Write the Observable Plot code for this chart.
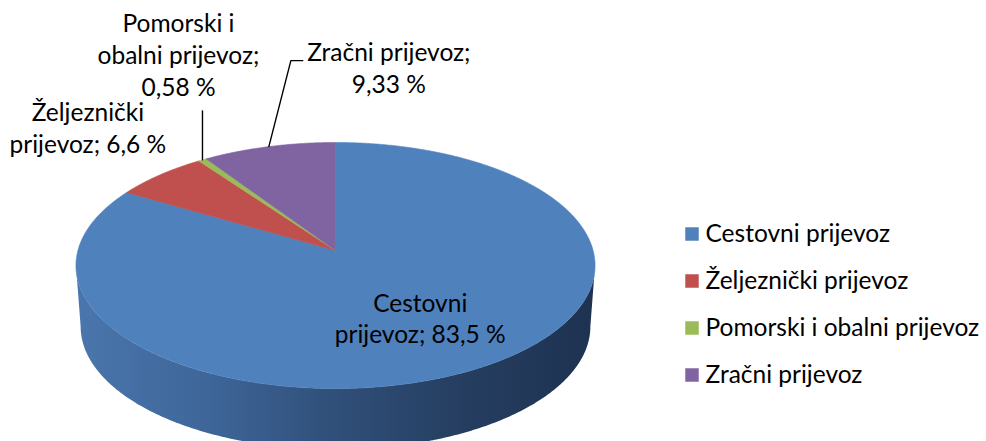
<!DOCTYPE html>
<html>
<head>
<meta charset="utf-8">
<script src="https://cdn.jsdelivr.net/npm/d3@7"></script>
<script src="https://cdn.jsdelivr.net/npm/@observablehq/plot@0.6"></script>
<style>
  html, body { margin: 0; padding: 0; background: #ffffff; }
  #chart svg { display: block; }
</style>
</head>
<body>
<div id="chart"></div>
<script>
// ---------------- data ----------------
const categories = ["Cestovni prijevoz", "Željeznički prijevoz", "Pomorski i obalni prijevoz", "Zračni prijevoz"];
const values = [83.5, 6.6, 0.58, 9.33];
const colors = ["#4F81BD", "#C0504D", "#9BBB59", "#8064A2"];

// ---------------- layout (sizes, positions, styles) ----------------
const W = 986, H = 441;
const G = { cx: 335, cy: 250, rx: 257.6, ry: 121.2, k: 0.122, depth: 61, bottomScale: 0.982 };
const FONT = 24.5, LINE_H = 1.3, WRAP = 16;
// data-label placement: inside radius factor, or offset from slice rim midpoint
const labelLayout = [
  { inside: 0.62, dx: 0, dy: -3 },
  { dx: -72, dy: -48 },
  { dx: -24, dy: -106, leader: [[0, 0], [0, -49]] },
  { dx: 120, dy: -80, leader: [[0, 0], [22, -86], [34, -86]] }
];
const legend = { x: 691.5, y0: 233.5, step: 47, textDx: 13.5, r: 7.6 };

// ---------------- geometry helpers ----------------
function proj(f, t) {
  const X = f * Math.sin(t), Z = f * Math.cos(t);
  const w = 1 + G.k * Z;
  return [G.cx + G.rx * X / w, G.cy - G.ry * Z / w];
}
const arcs = d3.pie().sort(null).startAngle(0).endAngle(2 * Math.PI)(values);
const STEP = Math.PI / 360;

// top-face slices
const slicePts = [];
arcs.forEach((a, i) => {
  const cat = categories[i];
  slicePts.push({ x: G.cx, y: G.cy, category: cat });
  const n = Math.max(2, Math.ceil((a.endAngle - a.startAngle) / STEP));
  for (let j = 0; j <= n; j++) {
    const t = a.startAngle + (a.endAngle - a.startAngle) * j / n;
    const [x, y] = proj(1, t);
    slicePts.push({ x, y, category: cat });
  }
  slicePts.push({ x: G.cx, y: G.cy, category: cat });
});

// front side wall (belongs to the first slice, which spans the whole front)
const tR = Math.acos(-G.k), tL = 2 * Math.PI - tR;
const sidePts = [];
const nSide = 400;
for (let j = 0; j <= nSide; j++) {
  const t = tR + (tL - tR) * j / nSide;
  const [x, y] = proj(1, t);
  sidePts.push({ x, y });
}
for (let j = nSide; j >= 0; j--) {
  const t = tR + (tL - tR) * j / nSide;
  const [x, y] = proj(1, t);
  sidePts.push({ x: G.cx + (x - G.cx) * G.bottomScale, y: y + G.depth });
}

// data labels
function fmt(v) { return String(v).replace(".", ",") + " %"; }
function wrap(s) {
  const words = s.split(" ");
  const lines = [];
  let cur = "";
  for (let i = 0; i < words.length; i++) {
    let w = words[i];
    if (words[i + 1] === "%") { w += " %"; i++; }
    if (!cur) cur = w;
    else if ((cur + " " + w).length <= WRAP) cur += " " + w;
    else { lines.push(cur); cur = w; }
  }
  if (cur) lines.push(cur);
  return lines.join("\n");
}
const labels = arcs.map((a, i) => {
  const mid = (a.startAngle + a.endAngle) / 2;
  const L = labelLayout[i];
  const [rx, ry] = L.inside ? proj(L.inside, mid) : proj(1, mid);
  return { x: rx + L.dx, y: ry + L.dy, rimX: rx, rimY: ry, text: wrap(categories[i] + "; " + fmt(values[i])), category: categories[i] };
});
const leaderPts = [];
labels.forEach((l, i) => {
  const L = labelLayout[i];
  if (!L.leader) return;
  L.leader.forEach(([ox, oy]) => leaderPts.push({ x: l.rimX + ox, y: l.rimY + oy, category: l.category }));
});

// legend rows
const legendRows = categories.map((c, i) => ({ category: c, x: legend.x, y: legend.y0 + i * legend.step }));

// ---------------- plot ----------------
const plot = Plot.plot({
  width: W, height: H, margin: 0,
  x: { type: "linear", domain: [0, W], range: [0, W], axis: null },
  y: { type: "linear", domain: [0, H], range: [0, H], axis: null },
  color: { domain: categories, range: colors },
  style: { fontFamily: "Lato, 'Open Sans', sans-serif", background: "#ffffff", overflow: "visible" },
  marks: [
    Plot.line(sidePts, { x: "x", y: "y", fill: "url(#sideGrad)", stroke: "none", curve: "linear" }),
    Plot.line(slicePts, { x: "x", y: "y", z: "category", fill: "category", stroke: "category", strokeWidth: 0.6, curve: "linear" }),
    Plot.line(leaderPts, { x: "x", y: "y", z: "category", stroke: "#000000", strokeWidth: 1.4, curve: "linear" }),
    Plot.text(labels, { x: "x", y: "y", text: "text", fontSize: FONT, lineHeight: LINE_H, fill: "#000000", textAnchor: "middle" }),
    Plot.dot(legendRows, { x: "x", y: "y", symbol: "square", r: legend.r, fill: "category", stroke: "none" }),
    Plot.text(legendRows, { x: "x", y: "y", text: "category", dx: legend.textDx, textAnchor: "start", fontSize: FONT, fill: "#000000" })
  ]
});

// gradient for the side wall
const svg = d3.select(plot);
const defs = svg.insert("defs", ":first-child");
const grad = defs.append("linearGradient")
  .attr("id", "sideGrad")
  .attr("gradientUnits", "userSpaceOnUse")
  .attr("x1", G.cx - G.rx).attr("x2", G.cx + G.rx).attr("y1", 0).attr("y2", 0);
[[0, "#4a76ad"], [0.25, "#3e6699"], [0.5, "#304f79"], [0.75, "#253e60"], [1, "#1e3251"]].forEach(([o, c]) =>
  grad.append("stop").attr("offset", o).attr("stop-color", c));

document.getElementById("chart").appendChild(plot);
</script>
</body>
</html>
